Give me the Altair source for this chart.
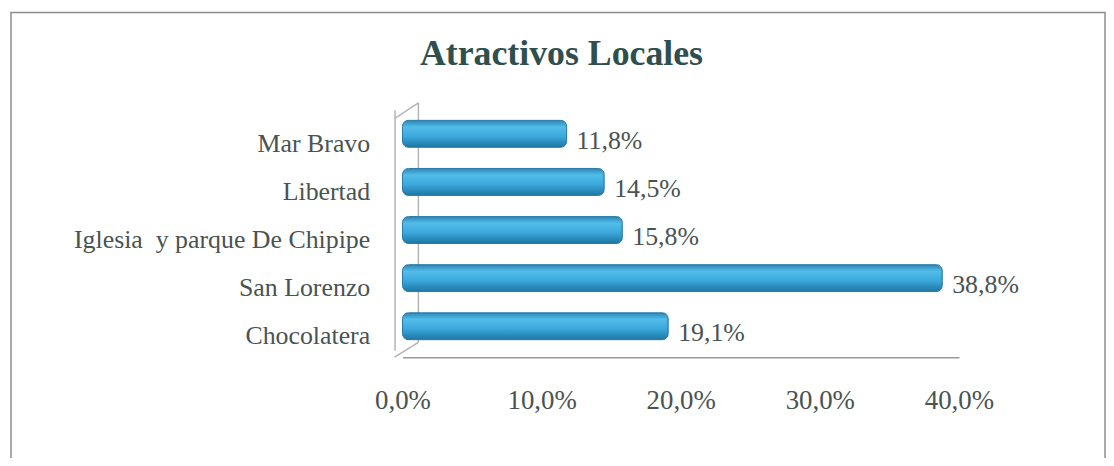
import altair as alt
import pandas as pd

categorias = ["Mar Bravo", "Libertad", "Iglesia\u00a0 y parque De Chipipe", "San Lorenzo", "Chocolatera"]
valores = [11.8, 14.5, 15.8, 38.8, 19.1]
ticks_x = [0, 10, 20, 30, 40]
titulo = "Atractivos Locales"

df = pd.DataFrame({"cat": categorias, "valor": valores})

FONT = "Liberation Serif"
TXT = "#4a5350"
WALL = "#b4b4b4"

base = alt.Chart(df).encode(
    y=alt.Y(
        "cat:N",
        sort=categorias,
        title=None,
        scale=alt.Scale(paddingInner=0.44, paddingOuter=0.22),
        axis=alt.Axis(
            domainColor=WALL, domainWidth=1.5, ticks=False, offset=8,
            labelPadding=25, labelFont=FONT, labelFontSize=26, labelColor=TXT,
            labelOffset=10, labelLimit=500,
        ),
    ),
    x=alt.X(
        "valor:Q",
        title=None,
        scale=alt.Scale(domain=[0, 40], nice=False),
        axis=alt.Axis(
            values=ticks_x, grid=False, ticks=False, offset=7,
            domainColor="#9a9a9a", domainWidth=1.5,
            labelFont=FONT, labelFontSize=27, labelColor=TXT, labelPadding=31,
            labelExpr="replace(format(datum.value, '.1f'), '.', ',') + '%'",
            labelFlush=False,
        ),
    ),
)

grad = alt.Gradient(
    gradient="linear",
    x1=0, x2=0, y1=0, y2=1,
    stops=[
        alt.GradientStop(offset=0, color="#2a86b8"),
        alt.GradientStop(offset=0.25, color="#52bde9"),
        alt.GradientStop(offset=0.6, color="#3aa8dc"),
        alt.GradientStop(offset=1, color="#1d76a3"),
    ],
)

bars = base.mark_bar(color=grad, stroke="#2b7aa3", strokeWidth=1, cornerRadius=6)

labels = base.transform_calculate(
    lbl="replace(format(datum.valor, '.1f'), '.', ',') + '%'"
).mark_text(
    align="left", baseline="middle", dx=10, dy=7, font=FONT, fontSize=26, color=TXT
).encode(text="lbl:N")

one = pd.DataFrame({"a": [0]})

frame = alt.Chart(one).mark_rect(
    fill=None, stroke="#8c8c8c", strokeWidth=1.5
).encode(
    x=alt.value(-394), x2=alt.value(707), y=alt.value(-98), y2=alt.value(380)
)

wall_back = alt.Chart(one).mark_rule(color=WALL, strokeWidth=1.5).encode(
    x=alt.value(16), x2=alt.value(16), y=alt.value(-7), y2=alt.value(234)
)
wall_top = alt.Chart(one).mark_rule(color=WALL, strokeWidth=1.5).encode(
    x=alt.value(-8), x2=alt.value(16), y=alt.value(9), y2=alt.value(-7)
)
wall_bottom = alt.Chart(one).mark_rule(color=WALL, strokeWidth=1.5).encode(
    x=alt.value(-8), x2=alt.value(16), y=alt.value(249), y2=alt.value(234)
)

chart = alt.layer(frame, wall_back, wall_top, wall_bottom, bars, labels).properties(
    width=560,
    height=242,
    title=alt.TitleParams(
        titulo, font=FONT, fontSize=36, fontWeight="bold", color="#2f4f4f",
        anchor="middle", dx=-120, offset=0, dy=90, baseline="alphabetic",
    ),
    autosize=alt.AutoSizeParams(type="none"),
    padding={"left": 397, "top": 101, "right": 148, "bottom": 107},
).configure_view(stroke=None)

chart.save("out.html", embed_options={"renderer": "svg", "actions": False})
